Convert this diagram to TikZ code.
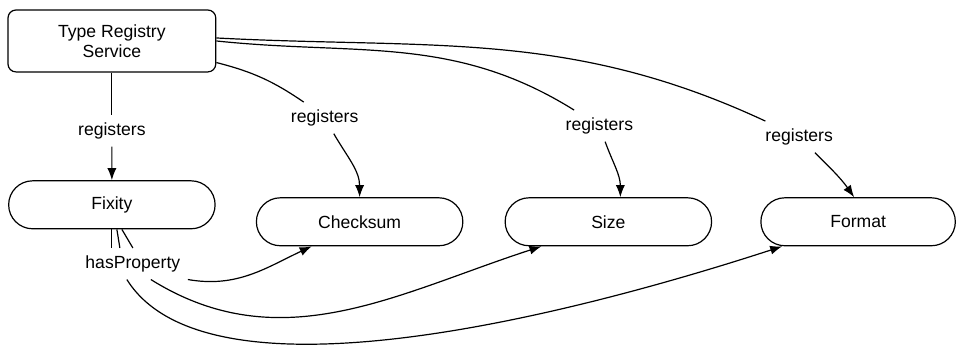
\documentclass[tikz,border=0pt]{standalone}
\usepackage{fontspec}
\setmainfont{Liberation Sans}
\usetikzlibrary{positioning, arrows.meta, shapes}

\begin{document}
\begin{tikzpicture}[-, node distance=1cm, font=\fontsize{8.8}{10}\selectfont, line width=0.6pt,
		>={Latex[length=6pt,width=4.5pt]},
		service/.style={draw, rounded corners=4pt, minimum width=104pt, minimum height=31pt, align=center},
		prop/.style={draw, rounded rectangle, minimum width=110pt, minimum height=24pt},
		lbl/.style={inner sep=3.5pt}]
		\useasboundingbox (-56pt,20.5pt) rectangle (422.5pt,-152pt);
		
		\node[service] (trs) at (0,0) {Type Registry\\Service};
		\node[prop, below of = trs, node distance=82pt] (fixity) {Fixity};
		\node[prop, right of = fixity, node distance=124pt, yshift=-8.5pt] (checksum) {Checksum};
		\node[prop, right of = checksum, node distance=124.5pt] (size) {Size};
		\node[prop, right of = size, node distance=125pt, minimum width=104pt] (format) {Format};
		
		\node[lbl, below of = trs, node distance=45pt] (reg1) {registers};
		\node[lbl, above of = checksum, node distance=52pt, xshift=-17.5pt] (reg2) {registers};
		\node[lbl, above of = size, node distance=48pt, xshift=-4.5pt] (reg3) {registers};
		\node[lbl, above of = format, node distance=42.5pt, xshift=-29.5pt] (reg4) {registers};
		\node[lbl, below of = fixity, node distance=29.5pt, xshift=10.5pt] (hp) {hasProperty};
		
		\draw (trs) -- (reg1);
		\draw[->] (reg1) -- (fixity);
		\draw ([yshift=5pt]trs.south east) to[bend left=10] (reg2);
		\draw[->] (reg2) to[out=-60, in=90] (checksum.north);
		\draw (trs.east) to[out=-6, in=148] (reg3);
		\draw[->] (reg3) to[out=-70, in=90] ([xshift=6pt]size.north);
		\draw ([yshift=1.5pt]trs.east) to[out=-3, in=155] (reg4);
		\draw[->] (reg4) to[out=-45, in=125] ([xshift=-2pt]format.north);
		
		\draw (fixity.south) -- ([xshift=-10.5pt]hp.north);
		\draw ([xshift=2.5pt]fixity.south) -- ([xshift=-6.5pt]hp.north);
		\draw ([xshift=5pt]fixity.south) -- (hp.north);
		\draw[->] (hp.south east) to[out=-10, in=205] ([xshift=-24pt]checksum.south);
		\draw[->] ([xshift=9pt]hp.south) to[out=-32, in=198] ([xshift=-33.5pt]size.south);
		\draw[->] ([xshift=-3pt]hp.south) to[out=-58, in=198, looseness=0.64] ([xshift=-38pt]format.south);
		
	\end{tikzpicture}
\end{document}
